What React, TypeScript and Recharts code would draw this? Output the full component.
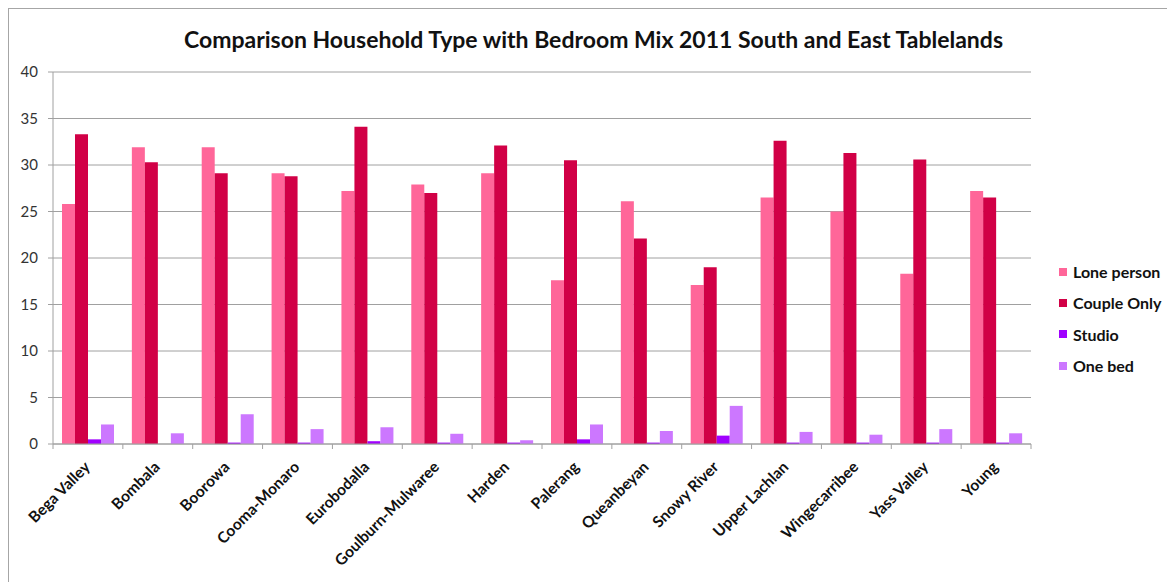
import React from 'react';
import { BarChart, Bar, XAxis, YAxis, CartesianGrid } from 'recharts';

const categories = ['Bega Valley', 'Bombala', 'Boorowa', 'Cooma-Monaro', 'Eurobodalla', 'Goulburn-Mulwaree', 'Harden', 'Palerang', 'Queanbeyan', 'Snowy River', 'Upper Lachlan', 'Wingecarribee', 'Yass Valley', 'Young'];
const lonePerson = [25.8, 31.9, 31.9, 29.1, 27.2, 27.9, 29.1, 17.6, 26.1, 17.1, 26.5, 25.0, 18.3, 27.2];
const coupleOnly = [33.3, 30.3, 29.1, 28.8, 34.1, 27.0, 32.1, 30.5, 22.1, 19.0, 32.6, 31.3, 30.6, 26.5];
const studio = [0.5, 0.0, 0.15, 0.15, 0.3, 0.15, 0.15, 0.5, 0.15, 0.9, 0.15, 0.15, 0.15, 0.15];
const oneBed = [2.1, 1.15, 3.2, 1.6, 1.8, 1.1, 0.4, 2.1, 1.4, 4.1, 1.3, 1.0, 1.6, 1.15];
const yTicks = [0, 5, 10, 15, 20, 25, 30, 35, 40];
const seriesNames = ['Lone person', 'Couple Only', 'Studio', 'One bed'];
const seriesKeys = ['lone', 'couple', 'studio', 'onebed'];
const seriesColors = ['#FF6699', '#D10046', '#A000FF', '#CC77FF'];
const title = 'Comparison Household Type with Bedroom Mix 2011 South and East Tablelands';

const data = categories.map((c, i) => ({
  name: c,
  lone: lonePerson[i],
  couple: coupleOnly[i],
  studio: studio[i],
  onebed: oneBed[i],
}));

const W = 1167;
const H = 574;
const MARGIN = { top: 63, right: 145, bottom: 10, left: 4 };
const Y_W = 40;
const PLOT_H = 372;
const PLOT_W = W - MARGIN.left - MARGIN.right - Y_W;
const BAND = PLOT_W / categories.length;
const FONT = 'Lato, "Open Sans", sans-serif';

const XTick = (props: any) => {
  const { x, y, payload, index } = props;
  const last = index === categories.length - 1;
  const tx = x + 3;
  const ty = y + 16;
  return (
    <g>
      <line x1={x - BAND / 2} x2={x - BAND / 2} y1={y - 8} y2={y - 3} stroke="#a0a0a0" />
      {last && <line x1={x + BAND / 2} x2={x + BAND / 2} y1={y - 8} y2={y - 3} stroke="#a0a0a0" />}
      <text
        x={tx}
        y={ty}
        transform={`rotate(-45 ${tx} ${ty})`}
        textAnchor="end"
        fontSize={15.5}
        fontWeight="bold"
        fontFamily={FONT}
        fill="#111"
      >
        {payload.value}
      </text>
    </g>
  );
};

export default function App() {
  return (
    <div
      style={{
        position: 'relative',
        width: W,
        height: H,
        borderLeft: '1px solid #a6a6a6',
        borderTop: '1px solid #a6a6a6',
        background: '#fff',
      }}
    >
      <div
        style={{
          position: 'absolute',
          top: 16,
          left: 0,
          width: W + 2,
          textAlign: 'center',
          fontFamily: FONT,
          fontWeight: 'bold',
          fontSize: 23,
          lineHeight: '28px',
          color: '#111',
          zIndex: 2,
        }}
      >
        {title}
      </div>
      <div style={{ position: 'absolute', left: 1050, top: 247, fontFamily: FONT, zIndex: 2 }}>
        {seriesNames.map((n, i) => (
          <div key={n} style={{ height: 31.3, display: 'flex', alignItems: 'center' }}>
            <div style={{ width: 8, height: 8, background: seriesColors[i], marginRight: 6 }} />
            <span style={{ fontSize: 16, fontWeight: 'bold', color: '#111' }}>{n}</span>
          </div>
        ))}
      </div>
      <BarChart width={W} height={H} data={data} margin={MARGIN} barGap={0}>
        <CartesianGrid vertical={false} stroke="#a0a0a0" />
        <XAxis
          dataKey="name"
          interval={0}
          height={H - MARGIN.top - MARGIN.bottom - PLOT_H}
          tickLine={false}
          axisLine={{ stroke: '#a0a0a0' }}
          tick={<XTick />}
        />
        <YAxis
          width={Y_W}
          domain={[0, 40]}
          ticks={yTicks}
          interval={0}
          tickSize={5}
          tickMargin={10}
          axisLine={{ stroke: '#a0a0a0' }}
          tickLine={{ stroke: '#a0a0a0' }}
          tick={{ fontSize: 15, fill: '#333', fontFamily: FONT }}
        />
        {seriesKeys.map((k, i) => (
          <Bar key={k} dataKey={k} name={seriesNames[i]} fill={seriesColors[i]} barSize={13} isAnimationActive={false} />
        ))}
      </BarChart>
    </div>
  );
}
